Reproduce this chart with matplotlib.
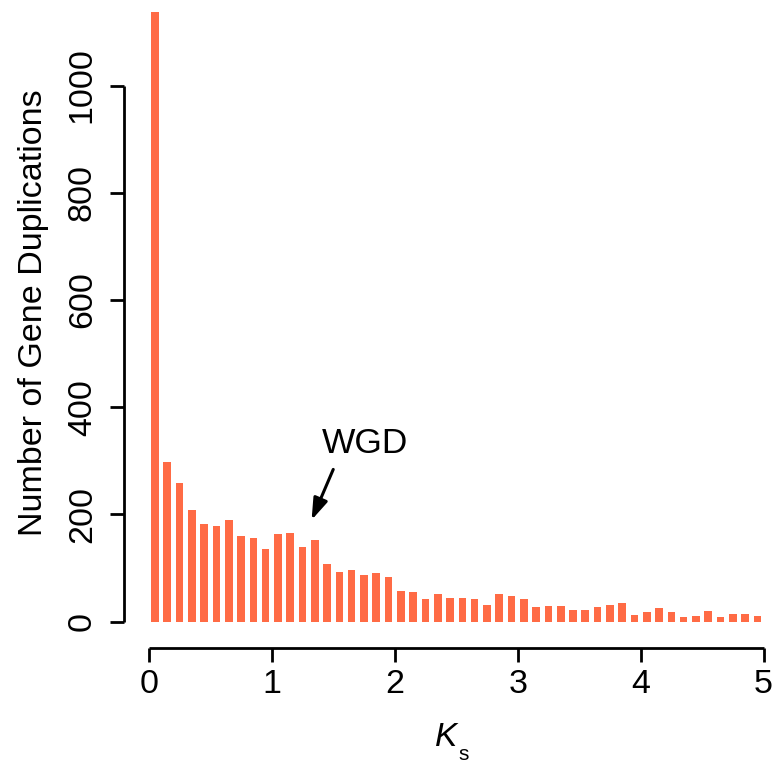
import numpy as np
import matplotlib
matplotlib.use("Agg")
import matplotlib.pyplot as plt

plt.rcParams['font.family'] = ['Liberation Sans', 'DejaVu Sans']

# Ks bins of 0.1 from 0 to 5
ks_centers = np.arange(50) * 0.1 + 0.05
counts = [1137, 297, 259, 208, 183, 179, 189, 159, 156, 136,
          164, 166, 140, 153, 107, 92, 97, 87, 91, 84,
          57, 56, 43, 52, 45, 44, 42, 31, 52, 47,
          42, 27, 30, 29, 22, 22, 28, 32, 35, 12,
          19, 25, 19, 8, 11, 20, 9, 14, 14, 10]

x_ticks = [0, 1, 2, 3, 4, 5]
y_ticks = [0, 200, 400, 600, 800, 1000]

fig = plt.figure(figsize=(7.74, 7.64), dpi=100)
ax = fig.add_axes([148.8 / 774, (764 - 621.7) / 764, 614.8 / 774, 621.7 / 764])
ax.bar(ks_centers, counts, width=0.062, color='#FF6B45', align='center')
ax.set_xlim(0, 5)
ax.set_ylim(0, 621.7 / 0.5362)

ax.spines['top'].set_visible(False)
ax.spines['right'].set_visible(False)
ax.spines['left'].set_position(('outward', 17.9))
ax.spines['bottom'].set_position(('outward', 19.2))
ax.spines['left'].set_bounds(0, 1000)
ax.spines['bottom'].set_bounds(0, 5)
for s in ['left', 'bottom']:
    ax.spines[s].set_linewidth(2)
    ax.spines[s].set_capstyle('butt')

ax.set_xticks(x_ticks)
ax.set_yticks(y_ticks)
ax.set_xticklabels([str(t) for t in x_ticks])
ax.set_yticklabels([str(t) for t in y_ticks], rotation=90, va='center')
ax.tick_params(axis='both', length=9.8, width=2, labelsize=24.5)
ax.tick_params(axis='y', pad=9)
ax.tick_params(axis='x', pad=5)

ax.set_ylabel('Number of Gene Duplications', fontsize=24.5)
ax.yaxis.set_label_coords((49 - 148.8) / 614.8, 0.497)

# Ks axis label, K italic with a small dropped s
fig.text(446 / 774, 1 - 746 / 764, 'K', fontsize=24, style='italic',
         ha='center', va='baseline')
fig.text(464 / 774, 1 - 760 / 764, 's', fontsize=15,
         ha='center', va='baseline')

ax.annotate('', xy=(1.324, 189.7), xytext=(1.5, 284),
            arrowprops=dict(arrowstyle='-|>,head_length=0.65,head_width=0.22',
                            color='black', lw=2.2, mutation_scale=20,
                            shrinkA=0, shrinkB=0))
ax.text(1.758, 315.2, 'WGD', fontsize=25.5, ha='center', va='baseline')

fig.savefig('out.png', dpi=100)
